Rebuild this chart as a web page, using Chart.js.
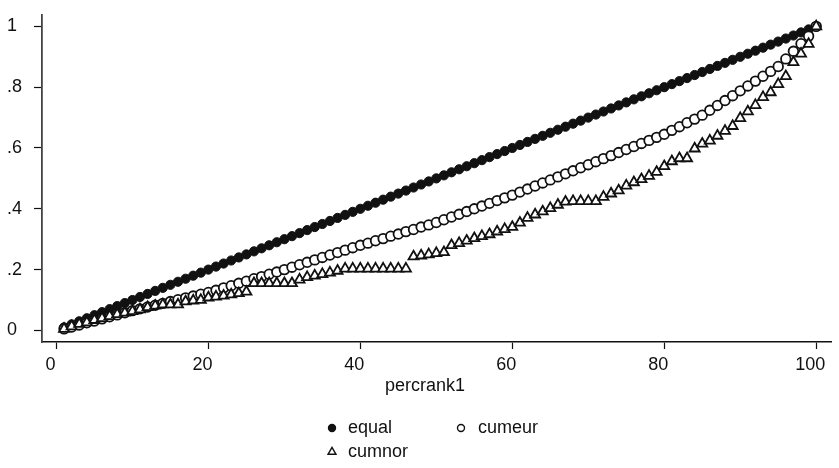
<!DOCTYPE html>
<html><head><meta charset="utf-8">
<script src="https://cdn.jsdelivr.net/npm/chart.js@4/dist/chart.umd.min.js"></script>
<style>html,body{margin:0;padding:0;background:#fff;} #wrap{width:839px;height:468px;position:relative;}</style>
</head><body><div id="wrap"><canvas id="c" width="839" height="468"></canvas></div>
<script>
const percrank1 = [1,2,3,4,5,6,7,8,9,10,11,12,13,14,15,16,17,18,19,20,21,22,23,24,25,26,27,28,29,30,31,32,33,34,35,36,37,38,39,40,41,42,43,44,45,46,47,48,49,50,51,52,53,54,55,56,57,58,59,60,61,62,63,64,65,66,67,68,69,70,71,72,73,74,75,76,77,78,79,80,81,82,83,84,85,86,87,88,89,90,91,92,93,94,95,96,97,98,99,100];
const equal = [0.01,0.02,0.03,0.04,0.05,0.06,0.07,0.08,0.09,0.10,0.11,0.12,0.13,0.14,0.15,0.16,0.17,0.18,0.19,0.20,0.21,0.22,0.23,0.24,0.25,0.26,0.27,0.28,0.29,0.30,0.31,0.32,0.33,0.34,0.35,0.36,0.37,0.38,0.39,0.40,0.41,0.42,0.43,0.44,0.45,0.46,0.47,0.48,0.49,0.50,0.51,0.52,0.53,0.54,0.55,0.56,0.57,0.58,0.59,0.60,0.61,0.62,0.63,0.64,0.65,0.66,0.67,0.68,0.69,0.70,0.71,0.72,0.73,0.74,0.75,0.76,0.77,0.78,0.79,0.80,0.81,0.82,0.83,0.84,0.85,0.86,0.87,0.88,0.89,0.90,0.91,0.92,0.93,0.94,0.95,0.96,0.97,0.98,0.99,1.00];
const cumeur = [0.005,0.011,0.018,0.025,0.031,0.038,0.045,0.051,0.058,0.065,
  0.071,0.077,0.083,0.089,0.095,0.101,0.107,0.113,0.119,0.125,
  0.132,0.140,0.147,0.155,0.162,0.170,0.177,0.185,0.192,0.200,
  0.208,0.216,0.224,0.232,0.240,0.248,0.256,0.264,0.272,0.280,
  0.287,0.295,0.302,0.310,0.317,0.325,0.332,0.340,0.347,0.355,
  0.364,0.373,0.382,0.391,0.400,0.409,0.418,0.427,0.436,0.445,
  0.455,0.465,0.475,0.485,0.495,0.505,0.515,0.525,0.535,0.545,
  0.555,0.565,0.575,0.585,0.595,0.605,0.615,0.625,0.635,0.645,
  0.658,0.670,0.683,0.695,0.708,0.724,0.740,0.756,0.772,0.788,
  0.804,0.820,0.836,0.852,0.868,0.893,0.918,0.943,0.968,1.000];
const cumnor = [0.005,0.013,0.021,0.026,0.034,0.040,0.047,0.053,0.058,0.063,
  0.069,0.076,0.081,0.085,0.085,0.085,0.095,0.098,0.100,0.108,
  0.111,0.114,0.118,0.122,0.127,0.155,0.155,0.155,0.155,0.155,
  0.155,0.167,0.175,0.180,0.185,0.190,0.196,0.203,0.203,0.203,
  0.203,0.203,0.203,0.203,0.203,0.203,0.243,0.246,0.250,0.254,
  0.257,0.280,0.287,0.295,0.303,0.310,0.316,0.325,0.333,0.340,
  0.354,0.370,0.381,0.391,0.402,0.413,0.423,0.425,0.425,0.425,
  0.425,0.439,0.450,0.460,0.476,0.487,0.497,0.508,0.521,0.540,
  0.556,0.566,0.566,0.598,0.614,0.624,0.640,0.656,0.672,0.698,
  0.720,0.741,0.767,0.783,0.810,0.836,0.882,0.910,0.942,1.000];
const seriesNames = ['equal', 'cumeur', 'cumnor'];
const xTickValues = [0, 20, 40, 60, 80, 100];
const xTickLabels = ['0', '20', '40', '60', '80', '100'];
const yTickValues = [0, 0.2, 0.4, 0.6, 0.8, 1];
const yTickLabels = ['0', '.2', '.4', '.6', '.8', '1'];
const xAxisTitle = 'percrank1';

const FONT = '"Liberation Sans", Arial, Helvetica, sans-serif';
const INK = '#111';
const PAPER = '#ffffff';
Chart.defaults.font.family = FONT;
Chart.defaults.font.size = 18;
Chart.defaults.color = INK;

const toPts = ys => percrank1.map((x, i) => ({x: x, y: ys[i]}));

function drawMarker(ctx, style, filled, r, x, y) {
  ctx.beginPath();
  if (style === 'triangle') {
    ctx.moveTo(x, y - r);
    ctx.lineTo(x + r * Math.sin(Math.PI / 3), y + r * 0.5);
    ctx.lineTo(x - r * Math.sin(Math.PI / 3), y + r * 0.5);
    ctx.closePath();
  } else {
    ctx.arc(x, y, r, 0, Math.PI * 2);
  }
  ctx.fillStyle = filled ? INK : PAPER;
  ctx.fill();
  ctx.strokeStyle = INK; ctx.lineWidth = 1.4; ctx.stroke();
}

const overlay = {
  id: 'overlay',
  afterDraw(chart) {
    const ctx = chart.ctx;
    ctx.save();
    ctx.font = '18px ' + FONT;
    ctx.fillStyle = INK;
    ctx.textBaseline = 'middle';
    ctx.textAlign = 'center';
    ctx.fillText(xAxisTitle, 425, 386);
    const ds = chart.data.datasets;
    const slots = [
      {mx: 332, tx: 348, y: 428},
      {mx: 461, tx: 478, y: 428},
      {mx: 332, tx: 348, y: 452}
    ];
    ds.forEach((d, i) => {
      const s = slots[i];
      const filled = d.backgroundColor === INK;
      drawMarker(ctx, d.pointStyle, filled, d.pointStyle === 'triangle' ? 4.6 : 3.5, s.mx, s.y);
      ctx.fillStyle = INK;
      ctx.textAlign = 'left';
      ctx.fillText(d.label, s.tx, s.y);
    });
    ctx.restore();
  }
};

new Chart(document.getElementById('c'), {
  type: 'scatter',
  data: {
    datasets: [
      {label: seriesNames[0], data: toPts(equal), pointStyle: 'circle', pointRadius: 4.6,
       backgroundColor: INK, borderColor: INK, borderWidth: 1, order: 2},
      {label: seriesNames[1], data: toPts(cumeur), pointStyle: 'circle', pointRadius: 4.8,
       backgroundColor: PAPER, borderColor: INK, borderWidth: 1.8, order: 1},
      {label: seriesNames[2], data: toPts(cumnor), pointStyle: 'triangle', pointRadius: 5.8,
       backgroundColor: PAPER, borderColor: INK, borderWidth: 1.8, order: 0}
    ]
  },
  options: {
    responsive: false, animation: false, devicePixelRatio: 1,
    layout: {padding: {left: 7, top: 3, right: 0, bottom: 86}},
    plugins: {legend: {display: false}, tooltip: {enabled: false}},
    scales: {
      x: {
        type: 'linear', position: 'bottom', min: -1.9, max: 102.0,
        afterBuildTicks: s => { s.ticks = xTickValues.map(v => ({value: v})); },
        afterFit: s => { s.height = 40; },
        ticks: {
          callback: v => xTickLabels[xTickValues.indexOf(v)],
          padding: 5, labelOffset: -6, maxRotation: 0, autoSkip: false, color: INK, font: {size: 18}
        },
        grid: {drawOnChartArea: false, drawTicks: true, tickLength: 7, tickColor: INK, tickWidth: 1.2},
        border: {display: true, color: INK, width: 1.6}
      },
      y: {
        type: 'linear', position: 'left', min: -0.0381, max: 1.0381,
        afterBuildTicks: s => { s.ticks = yTickValues.map(v => ({value: v})); },
        afterFit: s => { s.width = 35; },
        ticks: {
          callback: v => yTickLabels[yTickValues.indexOf(v)],
          crossAlign: 'far', padding: 4, color: INK, font: {size: 18}
        },
        grid: {drawOnChartArea: false, drawTicks: true, tickLength: 8, tickColor: INK, tickWidth: 1.2},
        border: {display: true, color: '#444', width: 1.8}
      }
    }
  },
  plugins: [overlay]
});
</script>
</body></html>
